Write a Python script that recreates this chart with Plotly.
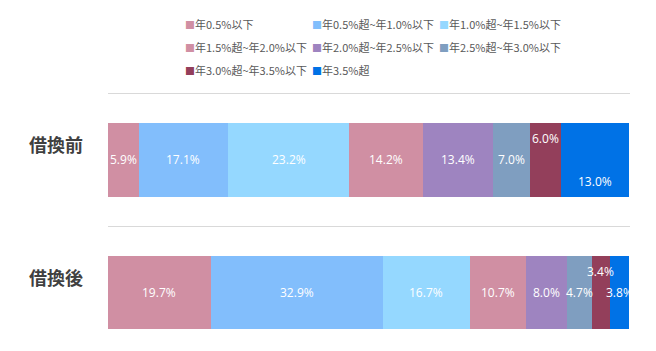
import plotly.graph_objects as go

categories = ["借換前", "借換後"]
series_names = [
    "年0.5%以下",
    "年0.5%超~年1.0%以下",
    "年1.0%超~年1.5%以下",
    "年1.5%超~年2.0%以下",
    "年2.0%超~年2.5%以下",
    "年2.5%超~年3.0%以下",
    "年3.0%超~年3.5%以下",
    "年3.5%超",
]
before_values = [5.9, 17.1, 23.2, 14.2, 13.4, 7.0, 6.0, 13.0]
after_values = [19.7, 32.9, 16.7, 10.7, 8.0, 4.7, 3.4, 3.8]
colors = ["#D08FA3", "#82BEFC", "#95D8FF", "#D08FA3", "#9E84C0", "#7F9EC0", "#933F5B", "#0072E6"]

# label vertical offsets (px) for crowded segments: (row, series index) -> shift
label_shift = {(0, 6): 21, (0, 7): -22, (1, 6): 21}

rows = [before_values, after_values]
ypos = [0, 1]

# layout geometry (pixels)
W, H = 656, 351
L, R, T, B = 108, 26, 92, 0
plot_w = W - L - R
plot_h = H - T - B

fig = go.Figure()
for i, name in enumerate(series_names):
    fig.add_trace(go.Bar(
        name=name,
        y=ypos,
        x=[r[i] for r in rows],
        orientation="h",
        marker=dict(color=colors[i], line=dict(width=0)),
        width=0.556,
        hoverinfo="skip",
        showlegend=False,
    ))

annotations = []
for ri, r in enumerate(rows):
    cum = 0.0
    for i, v in enumerate(r):
        annotations.append(dict(
            x=cum + v / 2, y=ypos[ri], xref="x", yref="y",
            text=f"{v:.1f}%", showarrow=False,
            font=dict(family="Open Sans, Noto Sans", size=12, color="white"),
            yshift=label_shift.get((ri, i), 0),
        ))
        cum += v

# legend (3 columns, row-major)
leg_x0, leg_dx = 183, 127
leg_y0, leg_dy = 24, 23
for i, name in enumerate(series_names):
    col, row = i % 3, i // 3
    px = leg_x0 + col * leg_dx
    py = leg_y0 + row * leg_dy
    annotations.append(dict(
        x=(px - L) / plot_w, y=1 + (T - py) / plot_h,
        xref="paper", yref="paper", xanchor="left", yanchor="middle",
        showarrow=False,
        text=f"<span style='color:{colors[i]};font-size:10px'>■</span>{name}",
        font=dict(family="Noto Sans CJK JP", size=11, color="#595959"),
    ))

fig.update_layout(
    barmode="stack",
    width=W, height=H,
    margin=dict(l=L, r=R, t=T, b=B),
    paper_bgcolor="white", plot_bgcolor="white",
    font=dict(family="Noto Sans CJK JP", color="#595959"),
    annotations=annotations,
    showlegend=False,
    xaxis=dict(range=[0, 100], showgrid=False, showticklabels=False, zeroline=False, fixedrange=True),
    yaxis=dict(
        range=[1.44, -0.508],
        tickvals=ypos, ticktext=categories,
        showgrid=False, zeroline=False, ticks="",
        tickfont=dict(family="Noto Sans CJK JP", size=18, color="#404040", weight="bold"),
        ticklabelstandoff=24,
        ticklabelshift=14,
        minor=dict(tickvals=[-0.5, 0.5], showgrid=True, gridcolor="#D9D9D9", gridwidth=1, ticks=""),
    ),
)

fig.write_html("out.html")
